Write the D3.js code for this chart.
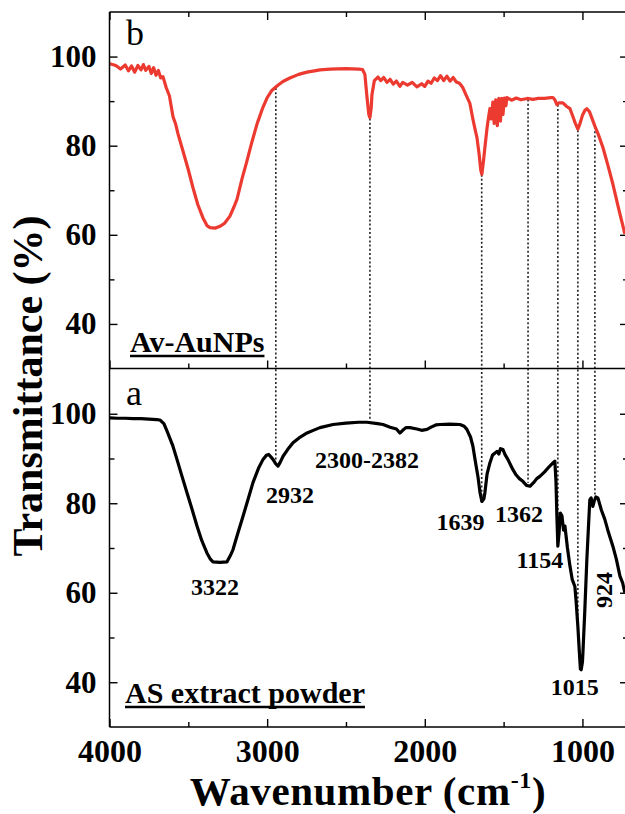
<!DOCTYPE html>
<html>
<head>
<meta charset="utf-8">
<script src="https://cdn.jsdelivr.net/npm/d3@7"></script>
<style>
  body { margin: 0; background: #fff; }
  svg { display: block; }
  text { font-family: "Liberation Serif", "Times New Roman", serif; }
</style>
</head>
<body>
<script>
// ---- data ----
// top panel (b) Av-AuNPs, red
let redWavenumber = [3997,3960,3930,3900,3880,3860,3840,3820,3800,3785,3770,3750,3735,3720,3705,3690,3675,3661,3640,3620,3597,3580,3565,3534,3500,3470,3440,3407,3380,3362,3330,3299,3270,3236,3210,3191,3160,3128,3100,3064,3030,3001,2970,2938,2900,2856,2800,2747,2700,2665,2600,2500,2420,2395,2380,2367,2355,2348,2340,2335,2320,2297,2280,2260,2240,2220,2200,2180,2158,2140,2110,2080,2050,2020,2000,1980,1960,1940,1920,1900,1880,1860,1840,1820,1800,1780,1758,1740,1714,1695,1680,1669,1655,1645,1638,1628,1619,1605,1595,1587,1578,1568,1560,1550,1540,1530,1520,1512,1504,1495,1485,1479,1450,1420,1390,1350,1314,1280,1240,1200,1187,1175,1162,1150,1124,1100,1079,1060,1045,1029,1015,1000,985,972,955,940,921,900,870,840,807,770,731]
let redTransmittance = [98.4,98.0,97.2,98.1,96.8,97.9,96.5,98.0,97.0,98.2,96.9,97.8,96.2,97.5,95.8,96.9,95.2,95.5,93.0,91.2,86.5,84.8,82.6,78.8,74.6,70.5,66.8,63.8,62.0,61.6,61.5,61.9,62.6,64.2,66.3,68.0,72.5,76.6,80.4,84.9,88.3,90.7,92.4,93.4,94.4,95.2,96.0,96.5,96.8,97.0,97.2,97.3,97.2,97.1,96.0,91.0,87.0,86.3,88.5,91.5,94.6,95.4,94.6,95.3,94.2,94.9,93.8,94.5,93.3,94.2,93.6,94.2,93.2,93.9,93.3,94.5,94.0,95.2,94.6,95.7,94.6,95.6,94.5,95.3,94.3,94.0,93.0,91.5,89.5,86.0,83.5,81.8,78.0,74.5,73.6,76.5,79.5,84.0,86.5,88.3,86.0,89.8,85.0,90.3,84.5,90.6,85.5,90.6,87.0,90.7,89.0,90.8,90.2,90.7,90.3,90.6,90.4,90.6,90.6,90.8,90.8,90.3,89.2,89.6,89.6,88.8,88.3,86.5,85.0,83.7,85.0,86.8,87.9,88.3,87.6,86.2,84.4,82.6,79.6,75.8,71.4,65.8,60.2]

// bottom panel (a) AS extract powder, black
let blackWavenumber = [3997,3950,3900,3850,3800,3750,3700,3680,3655,3635,3600,3572,3540,3508,3475,3445,3415,3382,3360,3344,3300,3255,3235,3217,3185,3153,3120,3090,3055,3026,3005,2990,2975,2963,2945,2931,2915,2899,2870,2836,2790,2747,2700,2665,2582,2500,2420,2367,2300,2265,2220,2180,2158,2140,2120,2094,2050,2020,1986,1960,1930,1904,1840,1777,1750,1733,1710,1695,1680,1663,1650,1638,1625,1619,1605,1587,1570,1555,1542,1530,1520,1504,1490,1473,1455,1441,1420,1400,1378,1355,1333,1310,1290,1270,1240,1210,1187,1175,1168,1162,1156,1148,1140,1130,1120,1111,1095,1079,1065,1048,1040,1029,1020,1013,1008,1000,997,985,972,960,953,945,934,925,915,902,880,858,835,807,785,762,745,731]
let blackTransmittance = [99.1,99.0,99.0,98.9,98.9,98.8,98.7,98.6,97.8,96.1,93.0,89.8,86.0,82.3,78.5,74.9,71.7,68.9,67.5,66.9,66.8,66.9,68.2,69.6,73.4,77.1,81.0,84.6,87.8,89.8,90.7,90.9,90.3,89.8,88.8,88.3,89.3,90.5,92.0,93.5,94.8,95.7,96.4,96.9,97.6,97.9,98.1,98.1,97.8,97.6,97.0,96.6,95.7,96.3,96.9,96.9,96.6,96.3,96.5,97.0,97.5,97.6,97.7,97.6,97.2,96.5,94.8,92.8,89.5,86.0,82.5,80.4,81.0,82.3,86.5,89.0,90.8,91.2,91.6,91.0,92.2,92.0,90.8,89.8,88.5,87.5,86.3,85.5,84.9,84.0,83.8,84.6,85.5,86.0,87.0,88.2,89.0,89.4,85.0,77.0,70.4,73.5,77.8,77.2,74.0,74.9,70.0,65.9,63.0,61.4,58.0,52.5,47.0,43.0,42.8,44.5,46.5,56.0,67.4,76.0,80.8,81.2,79.3,80.5,81.4,81.2,78.5,76.4,73.5,70.4,67.5,63.7,62.2,60.0]

// dotted guide lines (wavenumber)
let peakLines = [2945, 2348, 1639, 1345, 1156, 1029, 921]

// peak labels in panel a (label centre wavenumber, baseline transmittance)
let peakLabels = ["3322", "2932", "2300-2382", "1639", "1362", "1154", "1015"]
let peakLabelWn = [3331, 2855, 2367, 1774, 1403, 1270, 1048]
let peakLabelT = [59.5, 80.0, 87.8, 74.0, 75.7, 65.5, 37.2]

let xTicks = [4000, 3000, 2000, 1000]
let xMinor = [3500, 2500, 1500]
let yTicks = [40, 60, 80, 100]
let yMinor = [50, 70, 90]

// ---- layout ----
let W = 625, H = 814
let left = 109.5, right = 628
let svg = d3.select("body").append("svg").attr("width", W).attr("height", H)
svg.append("rect").attr("width", W).attr("height", H).attr("fill", "#fff")

let x = d3.scaleLinear().domain([4000, 730]).range([left, 625])
let yTop = d3.scaleLinear().domain([30, 110]).range([368.5, 12])
let yBot = d3.scaleLinear().domain([30, 110]).range([727, 369])

let redAt = d3.scaleLinear().domain(redWavenumber).range(redTransmittance)
let blackAt = d3.scaleLinear().domain(blackWavenumber).range(blackTransmittance)

let defs = svg.append("defs")
defs.append("clipPath").attr("id", "clipTop").append("rect")
    .attr("x", left).attr("y", 12).attr("width", W - left).attr("height", 356.5)
defs.append("clipPath").attr("id", "clipBot").append("rect")
    .attr("x", left).attr("y", 369).attr("width", W - left).attr("height", 358)

// dotted guides
svg.append("g").selectAll("line").data(peakLines).join("line")
    .attr("x1", d => x(d)).attr("x2", d => x(d))
    .attr("y1", d => yTop(redAt(d)) + 1)
    .attr("y2", d => yBot(blackAt(d)) - 3)
    .attr("stroke", "#222").attr("stroke-width", 1.6)
    .attr("stroke-dasharray", "2,2.2")

// curves
let line = (ys) => d3.line().x(d => x(d[0])).y(d => ys(d[1]))
svg.append("path")
    .datum(d3.zip(redWavenumber, redTransmittance))
    .attr("clip-path", "url(#clipTop)")
    .attr("d", line(yTop))
    .attr("fill", "none").attr("stroke", "#ec3a30").attr("stroke-width", 3.2)
    .attr("stroke-linejoin", "round")
svg.append("path")
    .datum(d3.zip(blackWavenumber, blackTransmittance))
    .attr("clip-path", "url(#clipBot)")
    .attr("d", line(yBot))
    .attr("fill", "none").attr("stroke", "#000").attr("stroke-width", 3.2)
    .attr("stroke-linejoin", "round")

// ---- axes ----
function yAxes(ys) {
    let gl = svg.append("g").attr("transform", `translate(${left},0)`)
    gl.call(d3.axisLeft(ys).tickValues(yTicks).tickSize(-8).tickPadding(13))
    gl.append("g").call(d3.axisLeft(ys).tickValues(yMinor).tickSize(-5).tickFormat(""))
    let gr = svg.append("g").attr("transform", `translate(${right},0)`)
    gr.call(d3.axisRight(ys).tickValues(yTicks).tickSize(-8).tickFormat(""))
    gr.append("g").call(d3.axisRight(ys).tickValues(yMinor).tickSize(-5).tickFormat(""))
}
yAxes(yTop)
yAxes(yBot)

function xAxis(yPos, down, labels) {
    let g = svg.append("g").attr("transform", `translate(0,${yPos})`)
    let ax = down ? d3.axisTop : d3.axisBottom
    g.call(ax(x).tickValues(xTicks).tickSize(-8).tickPadding(12)
        .tickFormat(labels ? d3.format("d") : ""))
    g.append("g").call(ax(x).tickValues(xMinor).tickSize(-5).tickFormat(""))
}
xAxis(12, true, false)
xAxis(368.5, false, false)
xAxis(727, false, true)

svg.selectAll(".domain").remove()
svg.selectAll(".tick line").attr("stroke", "#000").attr("stroke-width", 1.4)
svg.selectAll(".tick text")
    .attr("font-family", "Liberation Serif").attr("font-weight", "bold").attr("fill", "#000")
svg.selectAll("g[text-anchor=end] .tick text").attr("font-size", 31)
svg.selectAll("g[text-anchor=middle] .tick text").attr("font-size", 32)

// frame
let frame = svg.append("g").attr("stroke", "#000").attr("stroke-width", 1.5)
frame.append("line").attr("x1", left).attr("x2", W).attr("y1", 12).attr("y2", 12)
frame.append("line").attr("x1", left).attr("x2", W).attr("y1", 368.5).attr("y2", 368.5)
frame.append("line").attr("x1", left).attr("x2", W).attr("y1", 727).attr("y2", 727)
frame.append("line").attr("x1", left).attr("x2", left).attr("y1", 12).attr("y2", 727)

// panel letters
svg.append("text").attr("x", 126).attr("y", 45).attr("font-size", 36).text("b")
svg.append("text").attr("x", 126).attr("y", 405).attr("font-size", 36).text("a")

// sample names, underlined
function underlined(tx, ty, str) {
    let t = svg.append("text").attr("x", tx).attr("y", ty)
        .attr("font-size", 30).attr("font-weight", "bold").text(str)
    let w = t.node().getComputedTextLength()
    svg.append("line").attr("x1", tx).attr("x2", tx + w)
        .attr("y1", ty + 4.5).attr("y2", ty + 4.5)
        .attr("stroke", "#000").attr("stroke-width", 2.4)
}
underlined(130, 351.5, "Av-AuNPs")
underlined(125, 702.5, "AS extract powder")

// peak labels
svg.append("g").selectAll("text").data(peakLabels).join("text")
    .attr("x", (d, i) => x(peakLabelWn[i]))
    .attr("y", (d, i) => yBot(peakLabelT[i]))
    .attr("text-anchor", "middle")
    .attr("font-size", 24).attr("font-weight", "bold")
    .text(d => d)
svg.append("text")
    .attr("transform", `translate(${x(860) + 7},${yBot(60.6)}) rotate(-90)`)
    .attr("text-anchor", "middle")
    .attr("font-size", 24).attr("font-weight", "bold")
    .text("924")

// axis titles
svg.append("text")
    .attr("transform", "translate(42,386) rotate(-90)")
    .attr("text-anchor", "middle")
    .attr("font-size", 42).attr("font-weight", "bold")
    .text("Transmittance (%)")

let xt = svg.append("text").attr("x", 368).attr("y", 805)
    .attr("text-anchor", "middle")
    .attr("font-size", 41).attr("font-weight", "bold")
    .attr("letter-spacing", 0.6)
xt.append("tspan").text("Wavenumber (cm")
xt.append("tspan").attr("font-size", 24).attr("dy", -17).text("-1")
xt.append("tspan").attr("dy", 17).text(")")
</script>
</body>
</html>
